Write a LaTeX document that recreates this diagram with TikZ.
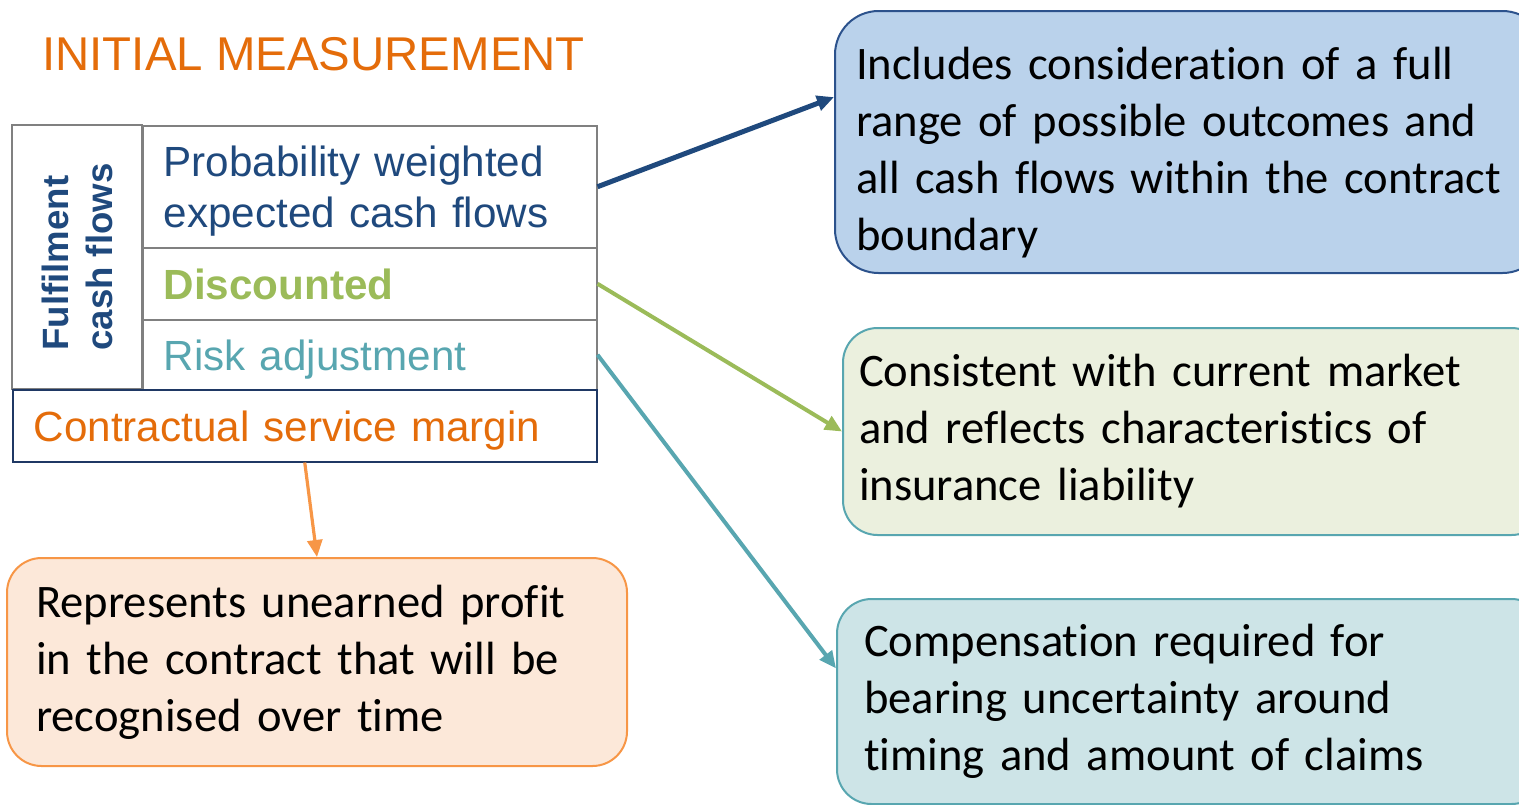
\documentclass[tikz,border=0pt]{standalone}
\usepackage{fontspec}
\setmainfont{Liberation Sans}
\newfontfamily\calibrifont[Ligatures={NoCommon}]{Carlito}
\usetikzlibrary{arrows.meta,calc}

\definecolor{ttlorange}{RGB}{228,108,10}
\definecolor{navy}{RGB}{31,73,125}
\definecolor{leafgreen}{RGB}{155,187,89}
\definecolor{seateal}{RGB}{88,166,176}
\definecolor{paleorange}{RGB}{247,150,70}
\definecolor{gridgray}{RGB}{128,128,128}
\definecolor{csmblue}{RGB}{31,56,100}
\definecolor{edgeblue}{RGB}{44,82,140}
\definecolor{fillblue}{RGB}{186,210,235}
\definecolor{fillgreen}{RGB}{235,240,222}
\definecolor{fillteal}{RGB}{205,228,231}
\definecolor{fillorange}{RGB}{252,232,217}

\tikzset{
  cell/.style={draw=gridgray, line width=0.75pt, anchor=north west, inner xsep=10.5pt,
    inner ysep=0pt, text depth=0pt, align=left, font=\fontsize{21.1}{25.5}\selectfont},
  note/.style={rounded corners=17.3pt, line width=1pt, anchor=north west, align=left,
    inner ysep=0pt, font=\calibrifont\fontsize{23.3}{28.5}\selectfont},
  link/.style={-{Triangle[length=8.5pt,width=7.5pt]}},
}

\begin{document}
\begin{tikzpicture}[x=0.5pt,y=-0.5pt]
  \useasboundingbox (0,0) rectangle (1519,804);

  %TITLE
  \node[anchor=base west, inner sep=0pt, text=ttlorange,
    font=\fontsize{23.7}{28}\selectfont] (title) at (42,70) {INITIAL MEASUREMENT};

  %TABLE
  \node[cell, rotate=90, anchor=center, minimum width=132pt, minimum height=65pt,
    inner xsep=0pt, text depth=, text=navy, font=\bfseries\fontsize{18.3}{22}\selectfont]
    (fcf) at (77,257) {Fulfilment\\cash flows};
  \node[cell, text depth=, text=navy, text width=206pt, minimum height=61pt]
    (pwcf) at (142,125) {\rule{0pt}{19.4pt}Probability weighted\\expected cash flows};
  \node[cell, text=leafgreen, text width=206pt, minimum height=36pt,
    font=\bfseries\fontsize{21.1}{25.5}\selectfont] (disc) at (142,247) {Discounted};
  \node[cell, text=seateal, text width=206pt, minimum height=35pt]
    (risk) at (142,319) {Risk adjustment};
  \node[cell, draw=csmblue, text=ttlorange, text width=271pt, minimum height=36pt]
    (csm) at (12,389) {Contractual service margin};

  %NOTES
  \node[note, rounded corners=21.8pt, draw=edgeblue, fill=fillblue, inner xsep=10.5pt,
    text width=334.5pt, minimum height=131pt] (incl) at (834,10)
    {\rule{0pt}{26.7pt}Includes consideration of a full\\range of possible outcomes and\\all cash flows within the contract\\boundary};
  \node[note, draw=seateal, fill=fillgreen, inner xsep=8pt, text width=335.5pt,
    minimum height=103.5pt] (cons) at (842,327)
    {Consistent with current market\\and reflects characteristics of\\insurance liability};
  \node[note, draw=seateal, fill=fillteal, inner xsep=13.5pt, text width=327.5pt,
    minimum height=102.5pt] (comp) at (836,598)
    {Compensation required for\\bearing uncertainty around\\timing and amount of claims};
  \node[note, draw=paleorange, fill=fillorange, inner xsep=14.5pt, text width=281pt,
    minimum height=104pt] (prof) at (6,557)
    {Represents unearned profit\\in the contract that will be\\recognised over time};

  %ARROWS
  \draw[link, navy, line width=2.5pt] (pwcf.east) -- ($(incl.north west)!0.33!(incl.south west)$);
  \draw[link, leafgreen, line width=2pt] (disc.east) -- (cons.west);
  \draw[link, seateal, line width=2pt] (risk.east) -- ($(comp.north west)!0.34!(comp.south west)$);
  \draw[link, paleorange, line width=1.6pt] (csm.south) -- (prof.north);
\end{tikzpicture}
\end{document}
